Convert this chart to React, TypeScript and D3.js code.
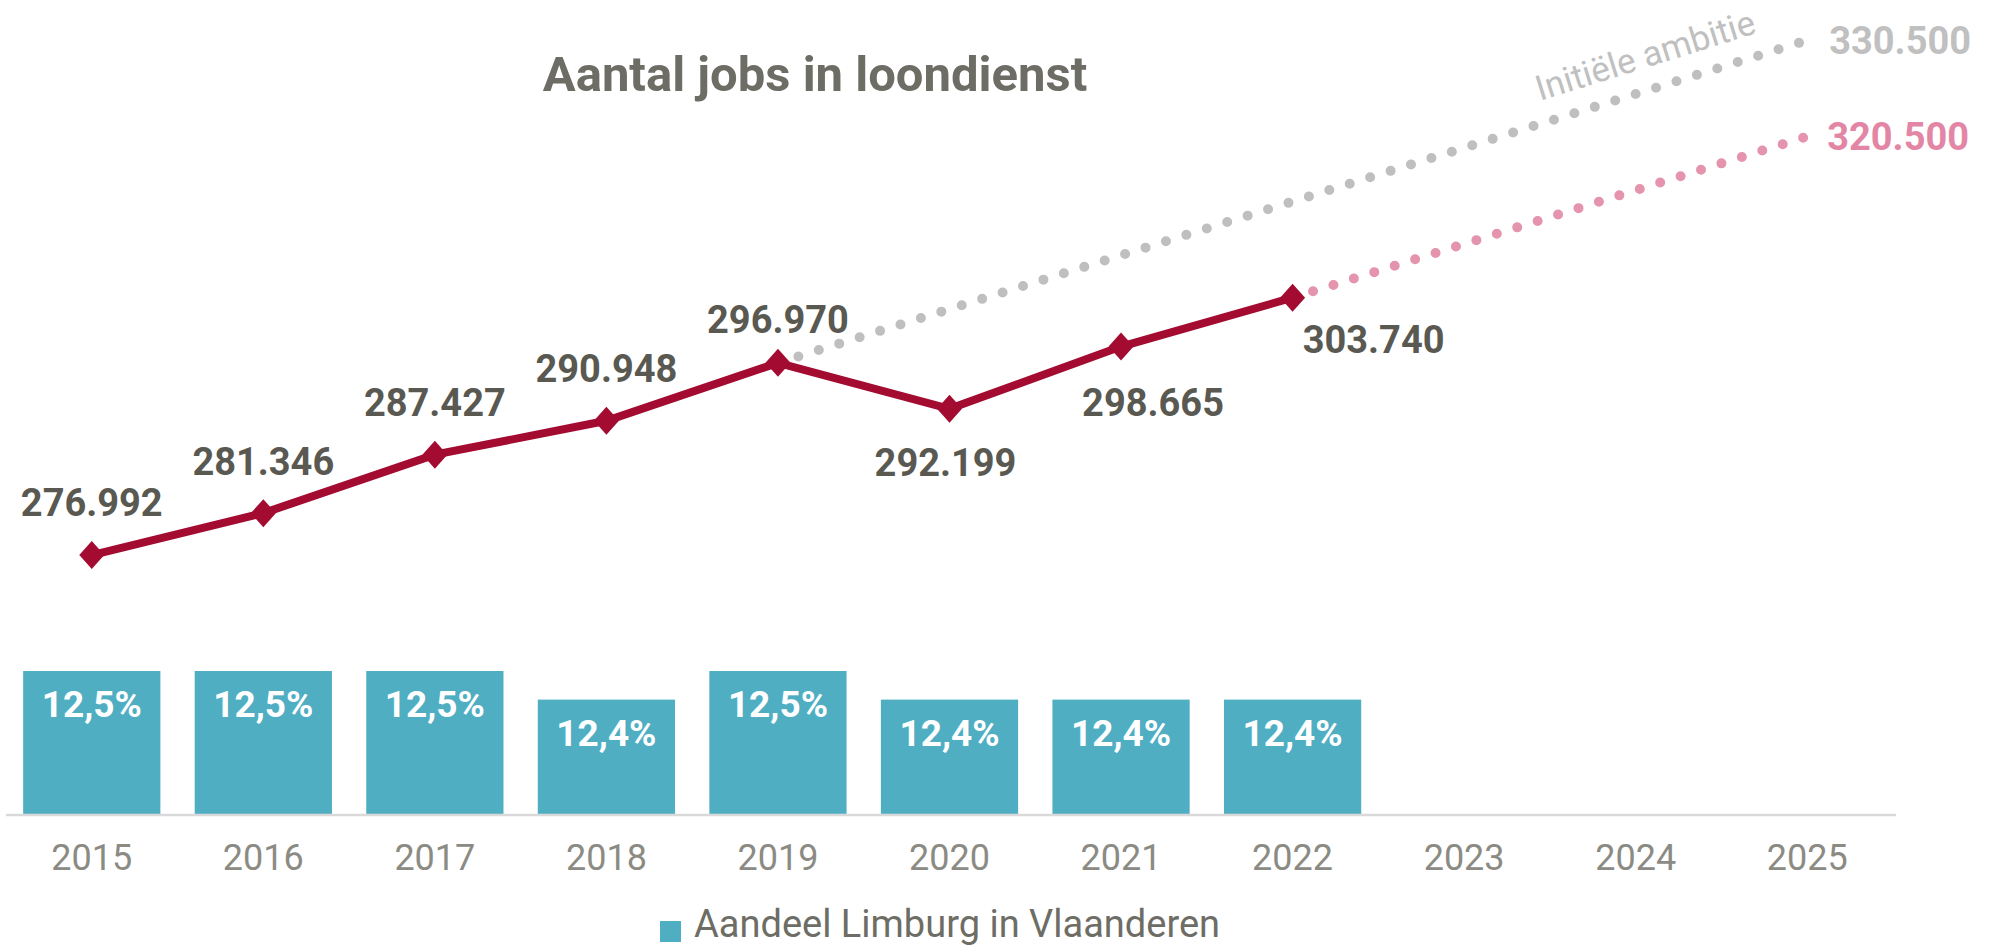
import React from "react";
import * as d3 from "d3";

const years = ["2015", "2016", "2017", "2018", "2019", "2020", "2021", "2022", "2023", "2024", "2025"];
const jobYears = ["2015", "2016", "2017", "2018", "2019", "2020", "2021", "2022"];
const jobs = [276992, 281346, 287427, 290948, 296970, 292199, 298665, 303740];
const shareLimburg = [12.5, 12.5, 12.5, 12.4, 12.5, 12.4, 12.4, 12.4];
const ambitionYears = ["2019", "2025"];
const ambitionValues = [296970, 330500];
const targetYears = ["2022", "2025"];
const targetValues = [303740, 320500];

const titleText = "Aantal jobs in loondienst";
const legendText = "Aandeel Limburg in Vlaanderen";
const ambitionText = "Initiële ambitie";

// label placement (layout, not data)
const labelOffsets = [
  { dx: 0, dy: -52 },
  { dx: 0, dy: -51 },
  { dx: 0, dy: -52 },
  { dx: 0, dy: -52 },
  { dx: 0, dy: -43 },
  { dx: -4, dy: 54 },
  { dx: 32, dy: 56 },
  { dx: 81, dy: 42 },
];

const W = 1992;
const H = 946;
const FONT = "Roboto, 'Noto Sans', sans-serif";

const nl = d3.formatLocale({ decimal: ",", thousands: ".", grouping: [3], currency: ["€", ""] });
const fmtInt = nl.format(",d");
const fmtPct = nl.format(".1f");

export default function App() {
  const x = d3.scaleBand<string>().domain(years).range([6, 1893]).paddingInner(0.2).paddingOuter(0.1);
  const cx = (yr: string) => (x(yr) as number) + x.bandwidth() / 2;
  const yBar = d3.scaleLinear().domain([12, 13]).range([814, 528]);
  const yLine = d3.scaleLinear().domain([270000, 340000]).range([622.3, -51.1]);

  const line = d3
    .line<[string, number]>()
    .x((d) => cx(d[0]))
    .y((d) => yLine(d[1]));

  const mainPts: [string, number][] = jobYears.map((yr, i) => [yr, jobs[i]]);
  const ambPts: [string, number][] = ambitionYears.map((yr, i) => [yr, ambitionValues[i]]);
  const tgtPts: [string, number][] = targetYears.map((yr, i) => [yr, targetValues[i]]);

  const ax0 = cx(ambitionYears[0]);
  const ay0 = yLine(ambitionValues[0]);
  const ax1 = cx(ambitionYears[1]);
  const ay1 = yLine(ambitionValues[1]);
  const angle = (Math.atan2(ay1 - ay0, ax1 - ax0) * 180) / Math.PI;
  const tx = ax1 - 43;
  const ty = ay0 + ((tx - ax0) * (ay1 - ay0)) / (ax1 - ax0);

  const diamond = (px: number, py: number) =>
    `M${px},${py - 14}L${px + 12.5},${py}L${px},${py + 14}L${px - 12.5},${py}Z`;

  return (
    <svg width={W} height={H} style={{ position: "absolute", left: 0, top: 0, background: "#fff" }} fontFamily={FONT}>
      <text x={815} y={91} textAnchor="middle" fontSize={49} fontWeight={700} fill="#6d6d65">
        {titleText}
      </text>

      {/* bars */}
      {shareLimburg.map((v, i) => (
        <g key={"b" + i}>
          <rect
            x={x(jobYears[i])}
            y={yBar(v)}
            width={x.bandwidth()}
            height={yBar(12) - yBar(v)}
            fill="#50aec3"
          />
          <text
            x={cx(jobYears[i])}
            y={yBar(v) + 33}
            dy="0.35em"
            textAnchor="middle"
            fontSize={37}
            fontWeight={700}
            fill="#ffffff"
          >
            {fmtPct(v) + "%"}
          </text>
        </g>
      ))}

      {/* axis */}
      <line x1={6} x2={1896} y1={815} y2={815} stroke="#d9d9d9" strokeWidth={2.5} />
      {years.map((yr) => (
        <text key={yr} x={cx(yr)} y={857} dy="0.35em" textAnchor="middle" fontSize={36} fill="#8b8b84">
          {yr}
        </text>
      ))}

      {/* dotted projections */}
      <path
        d={line(ambPts) as string}
        fill="none"
        stroke="#bfbfbf"
        strokeWidth={10}
        strokeLinecap="round"
        strokeDasharray="0 21.4"
        strokeDashoffset={-21.4}
      />
      <path
        d={line(tgtPts) as string}
        fill="none"
        stroke="#e594ae"
        strokeWidth={10}
        strokeLinecap="round"
        strokeDasharray="0 21.4"
        strokeDashoffset={-21.4}
      />
      <text x={ax1 + 22} y={yLine(ambitionValues[1])} dy="0.35em" fontSize={38} fontWeight={700} fill="#c0c0c0">
        {fmtInt(ambitionValues[1])}
      </text>
      <text x={ax1 + 20} y={yLine(targetValues[1])} dy="0.35em" fontSize={38} fontWeight={700} fill="#e386a5">
        {fmtInt(targetValues[1])}
      </text>
      <g transform={`translate(${tx},${ty}) rotate(${angle})`}>
        <text x={0} y={-22} textAnchor="end" fontSize={35} fill="#c0c0c0">
          {ambitionText}
        </text>
      </g>

      {/* main line */}
      <path d={line(mainPts) as string} fill="none" stroke="#a30b31" strokeWidth={8} strokeLinejoin="miter" />
      {mainPts.map((p, i) => (
        <path key={"m" + i} d={diamond(cx(p[0]), yLine(p[1]))} fill="#a30b31" />
      ))}
      {mainPts.map((p, i) => (
        <text
          key={"l" + i}
          x={cx(p[0]) + labelOffsets[i].dx}
          y={yLine(p[1]) + labelOffsets[i].dy}
          dy="0.35em"
          textAnchor="middle"
          fontSize={38}
          fontWeight={700}
          fill="#595952"
        >
          {fmtInt(p[1])}
        </text>
      ))}

      {/* legend */}
      <rect x={660} y={921} width={21} height={21} fill="#50aec3" />
      <text x={694} y={937} fontSize={38} fill="#6d6d65">
        {legendText}
      </text>
    </svg>
  );
}
